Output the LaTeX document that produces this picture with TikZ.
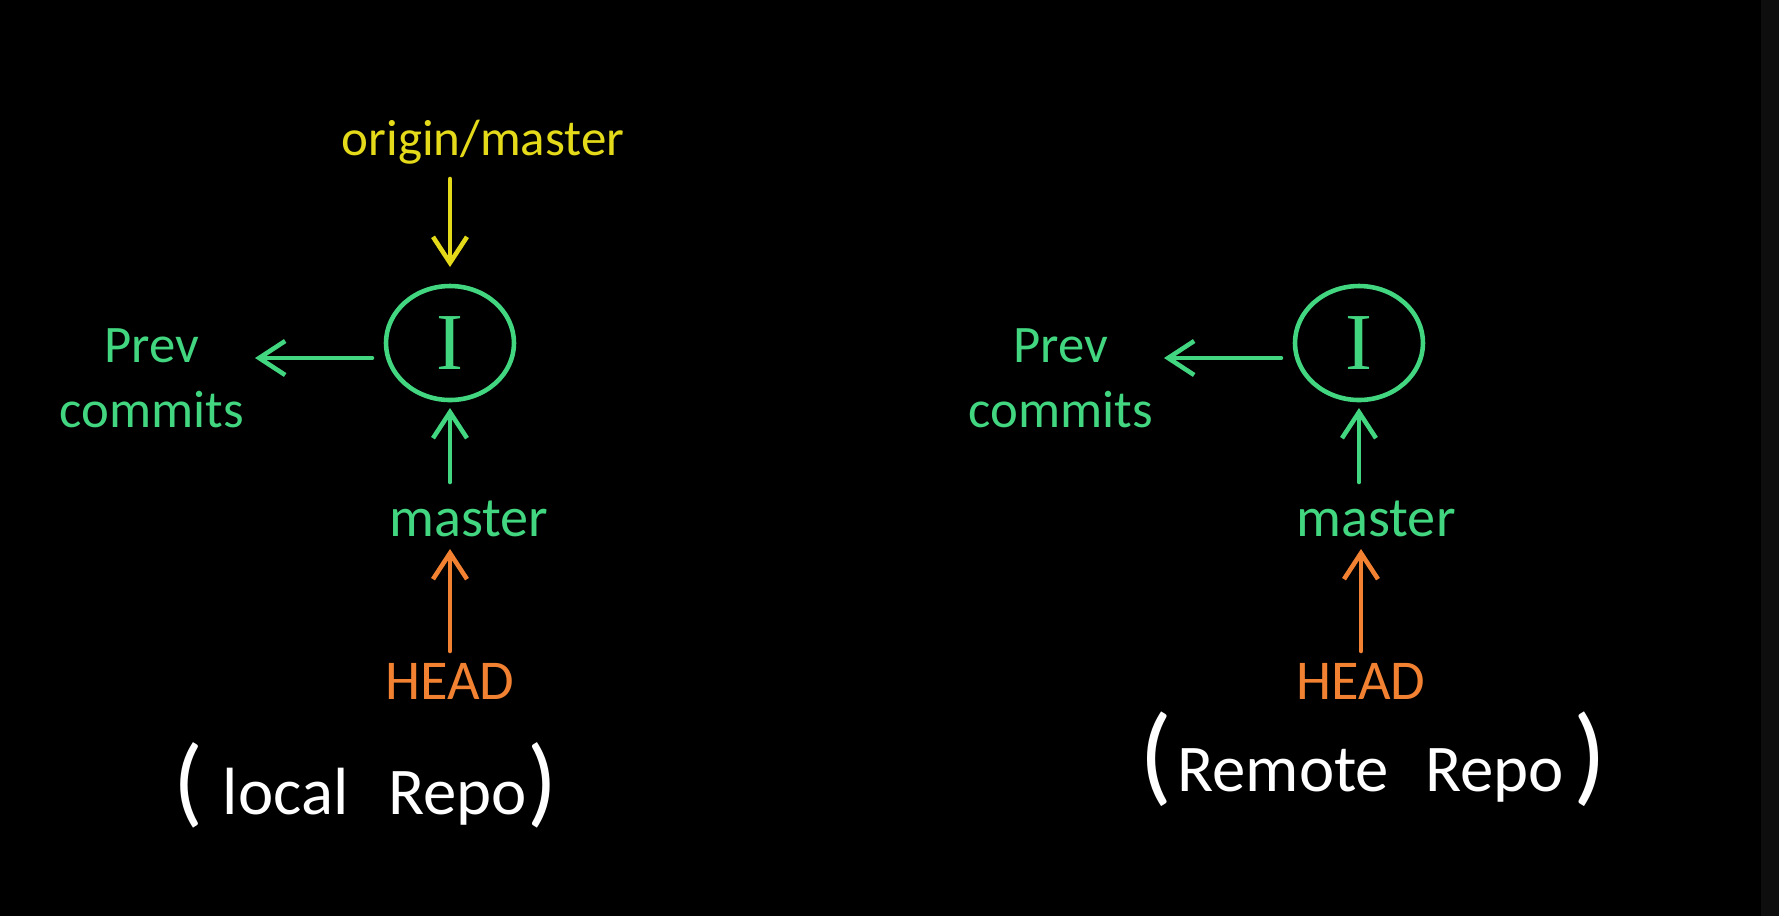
\documentclass[tikz,border=0pt]{standalone}
\usepackage{fontspec}
\setmainfont{Carlito}
\newfontfamily\serifI{Liberation Serif}
\usepackage{tikz}
\usetikzlibrary{arrows.meta,positioning,shapes.geometric}
\definecolor{board}{HTML}{000000}
\definecolor{edge}{HTML}{0E0E0E}
\definecolor{branch}{HTML}{41D67F}
\definecolor{remote}{HTML}{E5DA1A}
\definecolor{head}{HTML}{F28232}
\newcommand{\bigparen}[2]{{\fontsize{#1}{#1}\selectfont #2}}

\begin{document}
\begin{tikzpicture}[
  x=0.1mm,y=-0.1mm,
  every node/.style={inner sep=0pt,outer sep=0pt,align=center},
  lbl/.style={font=\fontsize{16}{14}\selectfont},
  prevlbl/.style={text=branch,font=\fontsize{15}{18.5}\selectfont},
  repolbl/.style={text=white,font=\fontsize{19}{19}\selectfont},
  commit/.style={ellipse,draw=branch,line width=1.3pt,minimum width=12.8mm,minimum height=11.4mm,text=branch,font=\serifI\fontsize{23}{23}\selectfont},
  arrow/.style={-{Straight Barb[length=2.6mm,width=3.4mm]},line width=1.3pt,line cap=round}
]
\fill[board] (0,0) rectangle (1779,916);
\fill[edge] (1761,0) rectangle (1779,916);

% local side
\node[commit] (c1) at (450,343) {I};
\node[lbl,text=remote,font=\fontsize{14.5}{14}\selectfont,above=12.2mm of c1,xshift=3.3mm] (om1) {origin/master};
\node[prevlbl,left=14.2mm of c1,yshift=-3.5mm] (p1) {Prev\\commits};
\node[lbl,text=branch,below=10.1mm of c1,xshift=1.9mm] (m1) {master};
\node[lbl,text=head,below=12.6mm of m1,xshift=-1.9mm] (h1) {HEAD};
\node[repolbl,below=4.3mm of h1,xshift=-8.5mm] (r1) {\bigparen{28}{(}\hspace{2mm}local\hspace{4mm}Repo\bigparen{28}{)}};

\draw[arrow,remote,shorten <=1.5mm,shorten >=1.9mm] (c1 |- om1.south) -- (c1.north);
\draw[arrow,branch,shorten <=1.4mm,shorten >=1.1mm] ([yshift=-1.5mm]c1.west) -- ([yshift=-1.5mm]c1.west -| p1.east);
\draw[arrow,branch,shorten <=1.9mm,shorten >=0.8mm] (m1.north -| c1) -- (c1.south);
\draw[arrow,head,shorten <=1.2mm,shorten >=1.2mm] (h1.north) -- (h1.north |- m1.south);

% remote side
\node[commit,right=78.1mm of c1] (c2) {I};
\node[prevlbl,left=14.2mm of c2,yshift=-3.5mm] (p2) {Prev\\commits};
\node[lbl,text=branch,below=10.1mm of c2,xshift=1.7mm] (m2) {master};
\node[lbl,text=head,below=12.6mm of m2,xshift=-1.5mm] (h2) {HEAD};
\node[repolbl,below=1.3mm of h2,xshift=1.2mm] (r2) {\bigparen{31}{(}\hspace{0.5mm}Remote\hspace{3.6mm}Repo\hspace{1mm}\bigparen{31}{)}};

\draw[arrow,branch,shorten <=1.4mm,shorten >=1.1mm] ([yshift=-1.5mm]c2.west) -- ([yshift=-1.5mm]c2.west -| p2.east);
\draw[arrow,branch,shorten <=1.9mm,shorten >=0.8mm] (m2.north -| c2) -- (c2.south);
\draw[arrow,head,shorten <=1.2mm,shorten >=1.2mm] (h2.north) -- (h2.north |- m2.south);
\end{tikzpicture}
\end{document}
